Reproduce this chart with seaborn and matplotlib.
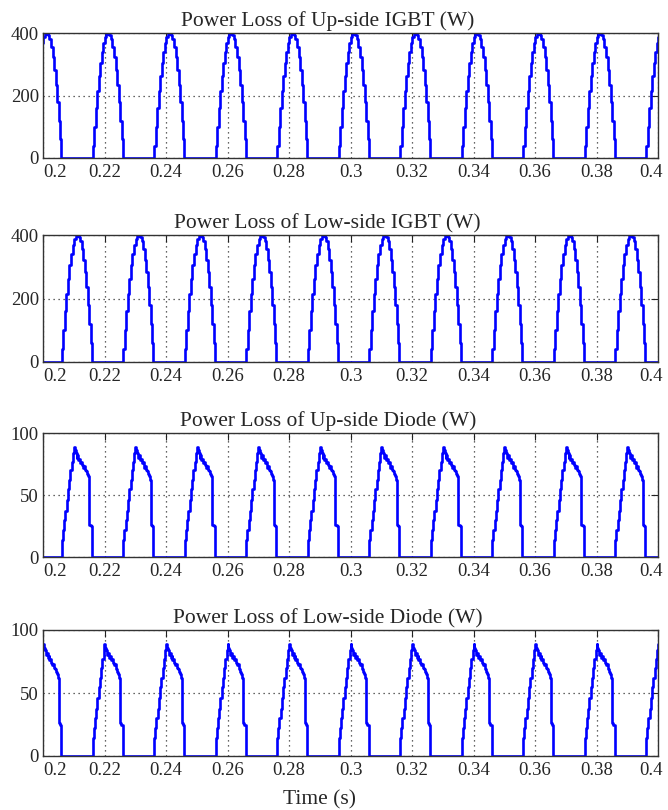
import numpy as np
import pandas as pd
import matplotlib
matplotlib.use("Agg")
import matplotlib.pyplot as plt
import matplotlib.transforms as mtransforms
import seaborn as sns

# ---- data ----
titles = ["Power Loss of Up-side IGBT (W)",
          "Power Loss of Low-side IGBT (W)",
          "Power Loss of Up-side Diode (W)",
          "Power Loss of Low-side Diode (W)"]
x_ticks = [0.2, 0.22, 0.24, 0.26, 0.28, 0.3, 0.32, 0.34, 0.36, 0.38, 0.4]
x_tick_labels = ["0.2", "0.22", "0.24", "0.26", "0.28", "0.3", "0.32", "0.34", "0.36", "0.38", "0.4"]
igbt_y_ticks = [0, 200, 400]
diode_y_ticks = [0, 50, 100]

# one conduction pulse (time since pulse start, W)
igbt_pulse_t = [0.0, 0.0005, 0.001, 0.0015, 0.002, 0.0025, 0.003, 0.0035, 0.004, 0.0045,
                0.005, 0.0055, 0.006, 0.0065, 0.007, 0.0075, 0.008, 0.0085, 0.009, 0.0095, 0.0098]
igbt_pulse_w = [40, 100, 160, 215, 262, 305, 340, 368, 388, 398,
                400, 395, 380, 356, 322, 282, 235, 180, 120, 60, 0]

diode_pulse_t = [0.0, 0.0004, 0.0008, 0.0012, 0.0016, 0.002, 0.0024, 0.0028, 0.0032, 0.0036,
                 0.0039, 0.0042, 0.0045, 0.0048, 0.0051, 0.0054, 0.0057, 0.006, 0.0063, 0.0066,
                 0.0069, 0.0072, 0.0075, 0.0078, 0.0081, 0.0084, 0.0087, 0.009, 0.0094, 0.0098]
diode_pulse_w = [14, 22, 30, 37, 46, 55, 62, 70, 77, 84,
                 89, 86, 84, 80, 82, 78, 79, 76, 77, 74,
                 72, 73, 70, 69, 67, 65, 62, 26, 25, 0]

# pulse start times (s)
up_igbt_starts = [0.1961, 0.2161, 0.2361, 0.2561, 0.2761, 0.2961, 0.3161, 0.3361, 0.3561, 0.3761, 0.3961]
low_igbt_starts = [0.2061, 0.2261, 0.2461, 0.2661, 0.2861, 0.3061, 0.3261, 0.3461, 0.3661, 0.3861]
up_diode_starts = [0.2061, 0.2261, 0.2461, 0.2661, 0.2861, 0.3061, 0.3261, 0.3461, 0.3661, 0.3861]
low_diode_starts = [0.1961, 0.2161, 0.2361, 0.2561, 0.2761, 0.2961, 0.3161, 0.3361, 0.3561, 0.3761, 0.3961]


def assemble(starts, rel_t, vals):
    ts, vs = [0.19], [0.0]
    for s in starts:
        ts.extend([s + r for r in rel_t])
        vs.extend(vals)
    ts.append(0.41)
    vs.append(0.0)
    return pd.DataFrame({"t": ts, "w": vs})


series = [assemble(up_igbt_starts, igbt_pulse_t, igbt_pulse_w),
          assemble(low_igbt_starts, igbt_pulse_t, igbt_pulse_w),
          assemble(up_diode_starts, diode_pulse_t, diode_pulse_w),
          assemble(low_diode_starts, diode_pulse_t, diode_pulse_w)]
yticks_list = [igbt_y_ticks, igbt_y_ticks, diode_y_ticks, diode_y_ticks]

# ---- styling ----
sns.set_style("white")
plt.rcParams["font.family"] = ["Liberation Serif", "DejaVu Serif"]
plt.rcParams["xtick.direction"] = "in"
plt.rcParams["ytick.direction"] = "in"

W, H = 668, 810
fig = plt.figure(figsize=(W / 100, H / 100), dpi=100)
boxes = [(43, 33, 658, 158), (43, 235, 658, 362), (43, 433, 658, 557), (43, 630, 658, 756)]
shift_right = mtransforms.ScaledTranslation(5 / 100, 0, fig.dpi_scale_trans)

for i, (df, (x0, y0, x1, y1)) in enumerate(zip(series, boxes)):
    ax = fig.add_axes([x0 / W, 1 - y1 / H, (x1 - x0) / W, (y1 - y0) / H])
    sns.lineplot(data=df, x="t", y="w", ax=ax, estimator=None, sort=False,
                 color="#0000FF", linewidth=1.9, drawstyle="steps-post")
    yt = yticks_list[i]
    ax.set_xlim(0.2, 0.4)
    ax.set_ylim(yt[0], yt[-1])
    ax.set_xticks(x_ticks)
    ax.set_xticklabels(x_tick_labels)
    ax.set_yticks(yt)
    ax.set_yticklabels([str(v) for v in yt])
    ax.tick_params(axis="both", labelsize=13.5, length=5, width=0.8, color="#222222",
                   top=True, right=True, pad=4)
    ax.tick_params(axis="y", pad=3)
    ax.grid(True, linestyle=(0, (1, 3)), color="#333333", linewidth=0.9)
    for sp in ax.spines.values():
        sp.set_color("#333333")
        sp.set_linewidth(1.0)
    ax.set_xlabel("")
    ax.set_ylabel("")
    ax.set_title(titles[i], fontsize=15.5, x=0.463, pad=5)
    labels = ax.get_xticklabels()
    labels[0].set_horizontalalignment("left")
    labels[-1].set_horizontalalignment("right")
    labels[-1].set_transform(labels[-1].get_transform() + shift_right)
    if i == 3:
        ax.set_xlabel("Time (s)", fontsize=15.5)
        ax.xaxis.set_label_coords(0.45, -0.27)

fig.savefig("out.png", dpi=100)
